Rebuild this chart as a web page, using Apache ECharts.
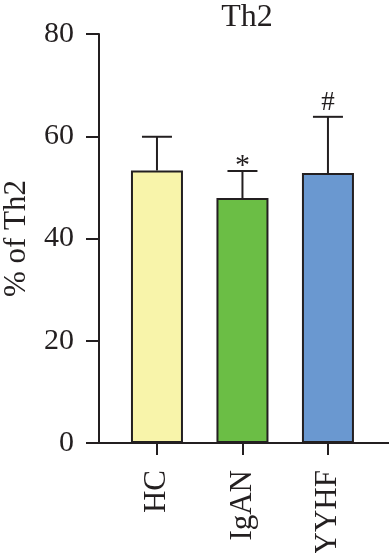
<!DOCTYPE html>
<html>
<head>
<meta charset="utf-8">
<script src="https://cdn.jsdelivr.net/npm/echarts@6/dist/echarts.min.js"></script>
<style>
html,body{margin:0;padding:0;background:#fff;}
#chart{width:389px;height:553px;}
</style>
</head>
<body>
<div id="chart"></div>
<script>
const categories = ['HC', 'IgAN', 'YYHF'];
const positions = [1, 2, 3];
const means = [53.3, 47.9, 52.8];
const sds = [6.6, 5.3, 11.0];
const marks = ['', '*', '#'];
const colors = ['#F8F4AA', '#6BBE45', '#6A98D0'];
const yTicks = [0, 20, 40, 60, 80];

const ink = '#231F20';
const serif = 'Liberation Serif';

const chart = echarts.init(document.getElementById('chart'));

const barData = positions.map((p, i) => ({
  value: [p, means[i]],
  itemStyle: { color: colors[i] }
}));
const errData = positions.map((p, i) => [p, means[i], sds[i], i]);

chart.setOption({
  animation: false,
  backgroundColor: '#fff',
  title: {
    text: 'Th2',
    left: 242,
    top: -3,
    textAlign: 'center',
    textStyle: { fontFamily: serif, fontSize: 32, fontWeight: 'normal', color: ink }
  },
  grid: { left: 99, right: 0, top: 34, bottom: 110, containLabel: false, outerBoundsMode: 'none' },
  xAxis: {
    type: 'value',
    min: 0.322,
    max: 3.714,
    splitLine: { show: false },
    axisLine: { show: true, onZero: false, lineStyle: { color: ink, width: 2 } },
    axisTick: { show: true, inside: false, length: 12, lineStyle: { color: ink, width: 2 }, customValues: positions },
    axisLabel: {
      customValues: positions,
      rotate: 90,
      margin: 27,
      fontFamily: serif,
      fontSize: 31,
      color: ink,
      formatter: v => categories[positions.indexOf(Math.round(v))] || ''
    }
  },
  yAxis: {
    type: 'value',
    min: yTicks[0],
    max: yTicks[yTicks.length - 1],
    interval: 20,
    name: '% of Th2',
    nameLocation: 'middle',
    nameRotate: 90,
    nameGap: 67,
    nameTextStyle: { fontFamily: serif, fontSize: 31, color: ink },
    splitLine: { show: false },
    axisLine: { show: true, onZero: false, lineStyle: { color: ink, width: 2 } },
    axisTick: { show: true, inside: false, length: 13, lineStyle: { color: ink, width: 2 } },
    axisLabel: { margin: 25, fontFamily: serif, fontSize: 30, color: ink }
  },
  series: [
    {
      type: 'bar',
      barWidth: 52,
      data: barData,
      itemStyle: { borderColor: ink, borderWidth: 2 },
      z: 2
    },
    {
      type: 'custom',
      data: errData,
      z: 3,
      renderItem: function (params, api) {
        const x = api.value(0);
        const m = api.value(1);
        const s = api.value(2);
        const idx = api.value(3);
        const p0 = api.coord([x, m]);
        const p1 = api.coord([x, m + s]);
        const half = 15;
        const children = [
          { type: 'line', shape: { x1: p0[0], y1: p0[1], x2: p1[0], y2: p1[1] }, style: { stroke: ink, lineWidth: 2 } },
          { type: 'line', shape: { x1: p1[0] - half, y1: p1[1], x2: p1[0] + half, y2: p1[1] }, style: { stroke: ink, lineWidth: 2 } }
        ];
        const t = marks[idx];
        if (t) {
          const isStar = t === '*';
          children.push({
            type: 'text',
            style: {
              text: t,
              x: p1[0],
              y: p1[1] - (isStar ? -10 : 0),
              align: 'center',
              verticalAlign: 'bottom',
              fontFamily: serif,
              fontSize: isStar ? 30 : 27,
              fill: ink
            }
          });
        }
        return { type: 'group', children: children };
      }
    }
  ]
});
</script>
</body>
</html>
